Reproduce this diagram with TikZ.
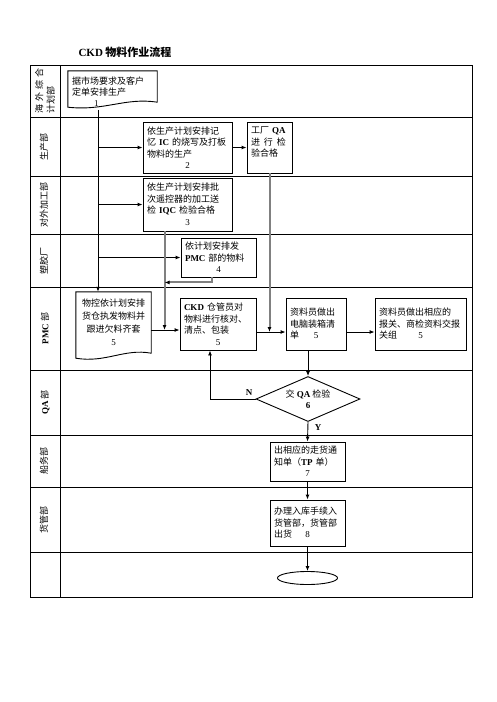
\documentclass[tikz,border=0pt]{standalone}
\usepackage{fontspec}
\setmainfont{Noto Sans CJK SC}
\newfontfamily\lat{Liberation Serif}
\newcommand\en[1]{{\lat\textbf{#1}}}
\newcommand\stepno[1]{{\lat #1}}
\usetikzlibrary{shapes.geometric,arrows.meta,calc}

\begin{document}
\begin{tikzpicture}[x=1pt,y=-1pt,
    every node/.style={font=\fontsize{9}{11.5}\selectfont},
    stepbox/.style={draw, line width=0.9pt, inner xsep=4pt, inner ysep=2pt, align=left},
    lanelabel/.style={rotate=90, align=left},
    arr/.style={-{Latex[length=5pt,width=4pt]}, line width=0.9pt},
    garr/.style={-{Latex[length=5pt,width=4pt,color=black]}, line width=2pt, gray}]
    \useasboundingbox (0,0) rectangle (496,702);

    % title
    \node[anchor=west, font=\bfseries\fontsize{11}{13}\selectfont] (title) at (75,52) {{\lat CKD} 物料作业流程};

    % lanes
    \draw[line width=1pt] (30,65) rectangle (472,597);
    \draw[line width=1pt] (60,65) -- (60,597);
    \foreach \y in {117,176,234,287,370,435,487,552}
        \draw[line width=1pt] (30,\y) -- (472,\y);
    \node[lanelabel] (lab1) at (45,91) {海\hspace{3pt}外\hspace{3pt}综\hspace{3pt}合\\计划部};
    \node[lanelabel] (lab2) at (44,146.5) {生产部};
    \node[lanelabel] (lab3) at (44,205) {对外加工部};
    \node[lanelabel] (lab4) at (44,260.5) {塑胶厂};
    \node[lanelabel] (lab5) at (45,328.5) {\en{PMC} 部};
    \node[lanelabel] (lab6) at (45,402.5) {\en{QA} 部};
    \node[lanelabel] (lab7) at (44,461) {船务部};
    \node[lanelabel] (lab8) at (44,519.5) {货管部};

    % steps
    \node[align=left, text width=81pt, minimum height=42pt, inner xsep=4pt, inner ysep=0pt, font=\fontsize{9}{11}\selectfont] (b1) at (112.5,92) {据市场要求及客户\\定单安排生产\\\hspace*{22pt}\stepno{1}};
    \draw[line width=0.9pt] (b1.north west) -- (b1.north east) -- ($(b1.south east)+(0,-11)$)
        .. controls ($(b1.south east)+(-32,-16)$) and ($(b1.south west)+(37,-2)$) .. ($(b1.south west)+(0,-6)$) -- cycle;
    \coordinate (b1w) at (98,110);

    \node[stepbox, text width=81pt, minimum height=51pt] (b2) at (187.5,147.5) {依生产计划安排记\\忆 \en{IC} 的烧写及打板\\物料的生产\\\makebox[\hsize]{\stepno{2}}};
    \node[stepbox, text width=37pt, minimum height=51pt] (qa) at (269.5,147.5) {工厂 \en{QA}\\进\hspace{4pt}行\hspace{4pt}检\\验合格\\~};
    \node[stepbox, text width=81pt, minimum height=53pt] (b3) at (187.5,204.5) {依生产计划安排批\\次遥控器的加工送\\检 \en{IQC} 检验合格\\\makebox[\hsize]{\stepno{3}}};
    \node[stepbox, text width=67pt, minimum height=39pt] (b4) at (218.5,257.5) {依计划安排发\\\en{PMC} 部的物料\\\makebox[\hsize]{\stepno{4}}};

    \node[align=center, text width=67pt, minimum height=61pt, inner xsep=4pt, inner ysep=0pt, font=\fontsize{9}{13}\selectfont] (d5) at (113.5,322.5) {物控依计划安排\\货仓执发物料并\\跟进欠料齐套\\\stepno{5}};
    \draw[line width=0.9pt] (d5.north west) -- (d5.north east) -- (d5.south east)
        .. controls ($(d5.south east)+(-27,-5)$) and ($(d5.south west)+(30,10)$) .. ($(d5.south west)+(0,5)$) -- cycle;

    \node[stepbox, text width=68pt, minimum height=52pt] (ckd) at (218,324) {\en{CKD} 仓管员对\\物料进行核对、\\清点、包装\\\makebox[\hsize]{\stepno{5}}};
    \node[stepbox, text width=52pt, minimum height=52pt] (z1) at (316,324) {资料员做出\\电脑装箱清\\\makebox[0pt][l]{单}\makebox[\hsize]{\stepno{5}}};
    \node[stepbox, text width=83pt, minimum height=52pt] (z2) at (420.5,324) {资料员做出相应的\\报关、商检资料交报\\\makebox[0pt][l]{关组}\makebox[\hsize]{\stepno{5}}};

    \node[draw, diamond, aspect=2.3, minimum width=104pt, minimum height=45pt, inner sep=0pt, line width=0.9pt, align=center] (dia) at (308,399) {交 \en{QA} 检验\\\en{6}};
    \node (nlab) at (249,393) {\en{N}};
    \node (ylab) at (318,428) {\en{Y}};

    \node[stepbox, text width=67pt, minimum height=39pt] (b7) at (307.5,461.5) {出相应的走货通\\知单（\en{TP} 单）\\\makebox[\hsize]{\stepno{7}}};
    \node[stepbox, text width=67pt, minimum height=46pt] (b8) at (307.5,523) {办理入库手续入\\货管部，货管部\\\makebox[0pt][l]{出货}\makebox[\hsize]{\stepno{8}}};
    \node[draw, ellipse, minimum width=60pt, minimum height=13pt, inner sep=0pt, line width=0.9pt] (fin) at (307.5,578) {};

    % connectors
    \coordinate (h0) at ($(ckd.west)+(0,6)$);
    \coordinate (h1) at ($(ckd.east)+(0,8)$);
    \coordinate (v3) at ($(b3.south west)+(22,0)$);
    \coordinate (v4) at ($(b4.south)+(-7,0)$);
    \coordinate (j4) at ($(v4)+(0,5)$);
    \coordinate (nret) at ($(ckd.south)+(-8,0)$);

    \draw[arr] (b1w) -- (b1w |- d5.north);
    \draw[arr] (b1w |- b2.west) -- (b2.west);
    \draw[arr] (b1w |- b3.west) -- (b3.west);
    \draw[arr] (b1w |- b4.west) -- (b4.west);
    \draw[arr] (b2.east) -- (qa.west);
    \draw[garr] (qa.south) -- (qa.south |- h1);
    \draw[garr] (v3) -- (v3 |- h0);
    \draw[garr] (v4) -- (j4) -- (j4 -| v3);
    \draw[arr] (h0 -| d5.east) -- (h0);
    \draw[arr] (h1) -- (h1 -| z1.west);
    \draw[arr] (h1 -| z1.east) -- (h1 -| z2.west);
    \draw[arr] (dia.north |- z1.south) -- (dia.north);
    \draw[arr] (dia.west) -| (nret);
    \draw[arr] (dia.south) -- (b7.north);
    \draw[arr] (b7.south) -- (b8.north);
    \draw[arr] (b8.south) -- (fin.north);
\end{tikzpicture}
\end{document}
